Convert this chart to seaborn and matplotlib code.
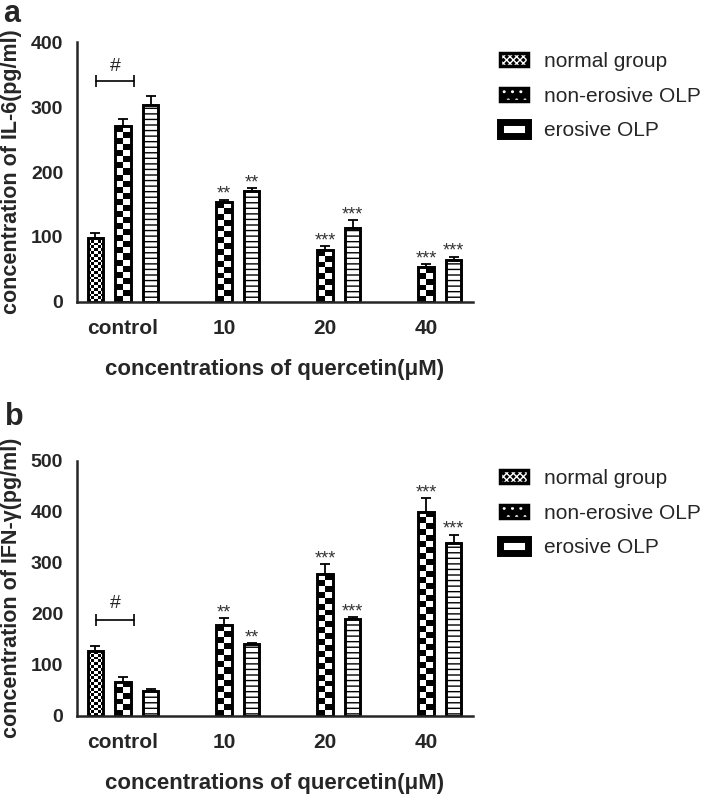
import numpy as np
import pandas as pd
import matplotlib
matplotlib.use('Agg')
import matplotlib.pyplot as plt
from matplotlib.patches import Patch
import seaborn as sns

categories = ['control', '10', '20', '40']
groups = ['normal group', 'non-erosive OLP', 'erosive OLP']

# IL-6 (pg/ml), mean and SD; None = no bar
il6_normal = [99, None, None, None]
il6_normal_sd = [6.5, None, None, None]
il6_nonerosive = [271, 153, 80, 53]
il6_nonerosive_sd = [11.5, 4.5, 6, 5]
il6_erosive = [303, 171, 114, 65]
il6_erosive_sd = [14, 4, 11.5, 4.5]

# IFN-γ (pg/ml)
ifn_normal = [126, None, None, None]
ifn_normal_sd = [10, None, None, None]
ifn_nonerosive = [67, 177, 277, 400]
ifn_nonerosive_sd = [8.5, 15, 20.5, 27]
ifn_erosive = [48, 140, 189, 339]
ifn_erosive_sd = [5, 3, 4, 16]

stars_nonerosive = ['', '**', '***', '***']
stars_erosive = ['', '**', '***', '***']


def long_df(means, sds):
    rows = []
    for g, m, s in zip(groups, means, sds):
        for c, v, e in zip(categories, m, s):
            if v is not None:
                rows.append({'conc': c, 'group': g, 'value': v, 'sd': e})
    return pd.DataFrame(rows)


def checker(ax, bar, ncols, cell_px):
    # black/white squares inside a bar, clipped to it
    x0, y0 = bar.get_x(), bar.get_y()
    w, h = bar.get_width(), bar.get_height()
    p0 = ax.transData.transform((x0, y0))
    p1 = ax.transData.transform((x0 + w, y0 + h))
    ny = max(1, int(round((p1[1] - p0[1]) / cell_px)))
    grid = np.indices((ny, ncols)).sum(axis=0) % 2
    im = ax.imshow(grid, cmap='gray', vmin=0, vmax=1, extent=(x0, x0 + w, y0, y0 + h),
                   aspect='auto', interpolation='nearest', origin='lower', zorder=0.9)
    im.set_clip_path(bar)


def panel(ax, means, sds, ymax, yticks, ylabel, hash_y, bracket_y):
    df = long_df(means, sds)
    sns.barplot(data=df, x='conc', y='value', hue='group', order=categories, hue_order=groups,
                palette=['white'] * 3, errorbar=None, width=0.82, gap=0.45,
                edgecolor='black', linewidth=2.1, legend=False, ax=ax)
    ax.set_xlim(-0.455, 3.465)
    ax.set_ylim(0, ymax)
    ax.set_yticks(yticks)

    stars = {groups[1]: stars_nonerosive, groups[2]: stars_erosive}
    for cont, g, sd in zip(ax.containers, groups, sds):
        for bar in cont:
            xc = bar.get_x() + bar.get_width() / 2
            ci = int(round(xc))
            h = bar.get_height()
            ax.errorbar([xc], [h], yerr=[[0], [sd[ci]]], fmt='none', ecolor='black',
                        elinewidth=1.3, capsize=3.6, capthick=1.3, zorder=0.5)
            if g in stars and stars[g][ci]:
                ax.annotate(stars[g][ci], (xc, h + sd[ci]), xytext=(0, 0.5),
                            textcoords='offset points', ha='center', va='baseline',
                            fontsize=13, color='#333333')
            if g == groups[0]:
                bar.set_facecolor('none')
                checker(ax, bar, 5, 2.8)
            elif g == groups[1]:
                bar.set_facecolor('none')
                checker(ax, bar, 2, 6)
            else:
                bar.set_hatch('---')
    ax.set_xlim(-0.455, 3.465)
    ax.set_ylim(0, ymax)

    # '#' bracket between normal and non-erosive control
    ax.plot([-0.27, 0.11], [bracket_y, bracket_y], color='black', lw=1.2, clip_on=False)
    ax.plot([-0.27, 0.11], [bracket_y, bracket_y], ls='none', marker='|', ms=8, mew=1.2,
            color='black', clip_on=False)
    ax.text(-0.08, hash_y, '#', ha='center', va='center', fontsize=14)

    sns.despine(ax=ax)
    for s in ['left', 'bottom']:
        ax.spines[s].set_linewidth(1.8)
    ax.tick_params(axis='both', width=1.8, length=8.5, labelsize=14, pad=1.5)
    ax.tick_params(axis='x', pad=4, labelsize=15)
    for lab in ax.get_xticklabels() + ax.get_yticklabels():
        lab.set_fontweight('bold')
    ax.set_xlabel('concentrations of quercetin(μM)', fontsize=16, fontweight='bold', labelpad=15)
    ax.set_ylabel(ylabel, fontsize=15.5, fontweight='bold', labelpad=6)


def legend_handles():
    frame = dict(facecolor='none', edgecolor='black', lw=2.5)
    return [(Patch(facecolor='black', edgecolor='white', lw=0, hatch='xxxxx'), Patch(**frame)),
            (Patch(facecolor='black', edgecolor='white', lw=0, hatch='..'), Patch(**frame)),
            (Patch(facecolor='white', edgecolor='white', lw=0), Patch(facecolor='none', edgecolor='black', lw=5))]


sns.set_style('white')
plt.rcParams['font.family'] = ['Liberation Sans', 'DejaVu Sans']
plt.rcParams['hatch.linewidth'] = 1.0

fig = plt.figure(figsize=(7.08, 7.94), dpi=100)
ax1 = fig.add_axes([0.1088, 0.620, 0.5593, 0.3267])
ax2 = fig.add_axes([0.1088, 0.0986, 0.5593, 0.3212])

panel(ax1, [il6_normal, il6_nonerosive, il6_erosive],
      [il6_normal_sd, il6_nonerosive_sd, il6_erosive_sd],
      400, [0, 100, 200, 300, 400], 'concentration of IL-6(pg/ml)', 362, 340)
panel(ax2, [ifn_normal, ifn_nonerosive, ifn_erosive],
      [ifn_normal_sd, ifn_nonerosive_sd, ifn_erosive_sd],
      500, [0, 100, 200, 300, 400, 500], 'concentration of IFN-γ(pg/ml)', 220, 187)

for top in [52, 469]:
    fig.legend(legend_handles(), groups, loc='upper left', bbox_to_anchor=(500 / 708, 1 - top / 794),
               frameon=False, fontsize=15, handlelength=1.35, handleheight=0.6,
               handletextpad=0.75, labelspacing=0.75, borderpad=0, borderaxespad=0)

fig.text(3 / 708, 1 - 22 / 794, 'a', fontsize=22, fontweight='bold', va='baseline')
fig.text(5 / 708, 1 - 425 / 794, 'b', fontsize=22, fontweight='bold', va='baseline')

fig.savefig('out.png', dpi=100)
